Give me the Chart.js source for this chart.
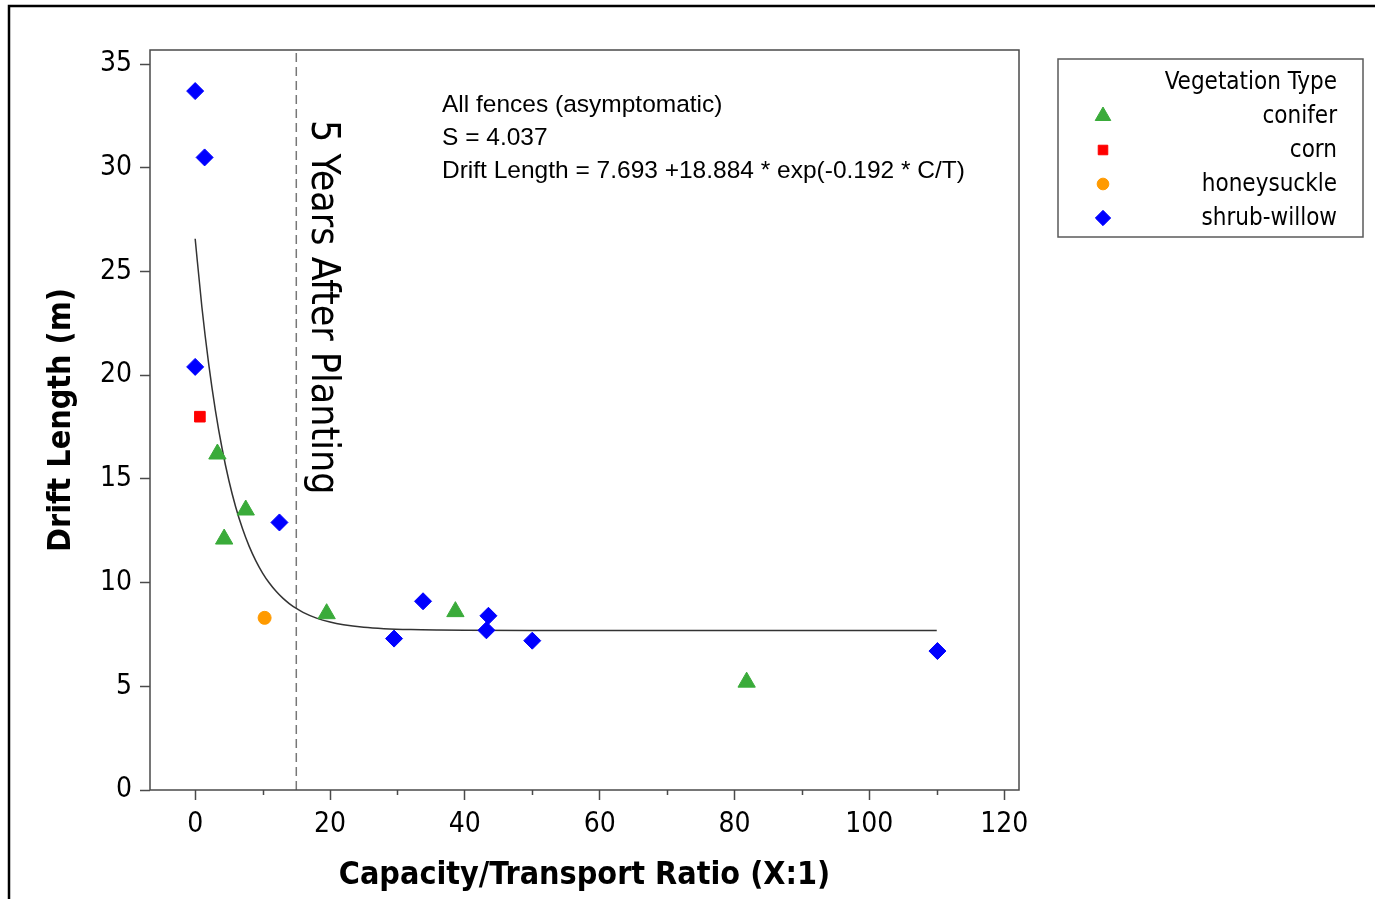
<!DOCTYPE html>
<html>
<head>
<meta charset="utf-8">
<title>Drift Length vs Capacity/Transport Ratio</title>
<script src="https://cdn.jsdelivr.net/npm/chart.js@4.4.0/dist/chart.umd.min.js"></script>
<style>
  html, body { margin: 0; padding: 0; background: #fff; }
  #wrap { width: 1375px; height: 899px; }
</style>
</head>
<body>
<div id="wrap"><canvas id="grafico" width="1375" height="899"></canvas></div>
<script>
// =======================
// Data
// =======================
const coniferX = [3.3, 7.5, 4.3, 19.5, 38.6, 81.8];
const coniferY = [16.2, 13.5, 12.1, 8.5, 8.6, 5.2];

const cornX = [0.7];
const cornY = [18.0];

const honeysuckleX = [10.3];
const honeysuckleY = [8.3];

const willowX = [0.0, 1.4, 0.0, 12.5, 33.8, 29.5, 43.5, 43.2, 50.0, 110.1];
const willowY = [33.7, 30.5, 20.4, 12.9, 9.1, 7.3, 8.4, 7.7, 7.2, 6.7];

// fitted curve, coefficients as printed on the chart
const fitA = 7.693;
const fitB = 18.884;
const fitK = -0.192;
const fitX = [0, 1, 2, 3, 4, 5, 6, 7, 8, 9, 10, 11, 12, 13, 14, 15, 16, 18, 20, 22, 25, 28, 32, 36, 40, 50, 60, 80, 110];

const plantingX = 15;   // "5 Years After Planting"

const xTicks = [0, 20, 40, 60, 80, 100, 120];
const yTicks = [0, 5, 10, 15, 20, 25, 30, 35];
const xMin = -6.7, xMax = 122.2;
const yMin = 0, yMax = 35.68;

const legendTitle = "Vegetation Type";
const legendItems = [
  { label: "conifer", color: "#3aab3a", style: "triangle", radius: 10 },
  { label: "corn", color: "#ff0000", style: "rect", radius: 7.5 },
  { label: "honeysuckle", color: "#ff9a00", style: "circle", radius: 6.5 },
  { label: "shrub-willow", color: "#0000ff", style: "rectRot", radius: 8.5 }
];

const noteLines = [
  "All fences (asymptomatic)",
  "S = 4.037",
  "Drift Length = 7.693 +18.884 * exp(-0.192 * C/T)"
];
const verticalNote = "5 Years After Planting";

// =======================
// Helpers
// =======================
function toPoints(xs, ys) {
  return xs.map((x, i) => ({ x: x, y: ys[i] }));
}

const fitPoints = fitX.map(x => ({ x: x, y: fitA + fitB * Math.exp(fitK * x) }));

const FONT = '"DejaVu Sans Condensed", Tahoma, "Liberation Sans", sans-serif';
const NOTE_FONT = '"Liberation Sans", Arial, sans-serif';

// =======================
// Plugin: frame, minor ticks, texts, legend
// =======================
const extras = {
  id: 'extras',
  beforeDraw(chart) {
    const ctx = chart.ctx;
    ctx.save();
    ctx.fillStyle = '#fff';
    ctx.fillRect(0, 0, chart.width, chart.height);
    // outer frame (top + left)
    ctx.strokeStyle = '#000';
    ctx.lineWidth = 2.5;
    ctx.beginPath();
    ctx.moveTo(chart.width, 6);
    ctx.lineTo(9, 6);
    ctx.lineTo(9, chart.height);
    ctx.stroke();
    ctx.restore();
  },
  afterDraw(chart) {
    const ctx = chart.ctx;
    const area = chart.chartArea;
    const xs = chart.scales.x;
    ctx.save();

    // plot frame
    ctx.strokeStyle = '#4a4a4a';
    ctx.lineWidth = 1.5;
    ctx.strokeRect(area.left, area.top, area.right - area.left, area.bottom - area.top);

    // minor x ticks
    ctx.beginPath();
    for (let v = 10; v <= 110; v += 20) {
      const px = Math.round(xs.getPixelForValue(v)) + 0.5;
      ctx.moveTo(px, area.bottom);
      ctx.lineTo(px, area.bottom + 5);
    }
    ctx.stroke();

    // vertical note
    ctx.fillStyle = '#000';
    ctx.font = '39px ' + FONT;
    ctx.textAlign = 'left';
    ctx.textBaseline = 'middle';
    ctx.save();
    ctx.translate(xs.getPixelForValue(plantingX) + 26, area.top + 70);
    ctx.rotate(Math.PI / 2);
    ctx.fillText(verticalNote, 0, 0);
    ctx.restore();

    // equation block
    ctx.font = '24.5px ' + NOTE_FONT;
    ctx.textBaseline = 'middle';
    noteLines.forEach((t, i) => {
      ctx.fillText(t, area.left + 292, area.top + 55 + i * 33);
    });

    // legend box
    const bx = area.right + 39, by = 59, bw = 305, bh = 178;
    ctx.strokeStyle = '#5a5a5a';
    ctx.lineWidth = 1.5;
    ctx.strokeRect(bx, by, bw, bh);
    ctx.font = '24px ' + FONT;
    ctx.textAlign = 'right';
    ctx.fillStyle = '#000';
    ctx.fillText(legendTitle, bx + bw - 26, by + 24);
    legendItems.forEach((it, i) => {
      const cy = by + 57 + i * 34;
      ctx.fillStyle = '#000';
      ctx.fillText(it.label, bx + bw - 26, cy + 1);
      ctx.fillStyle = it.color;
      ctx.strokeStyle = it.color;
      ctx.lineWidth = 1;
      Chart.helpers.drawPoint(ctx, { pointStyle: it.style, radius: it.radius * 0.9, rotation: 0, borderWidth: 1 }, bx + 45, cy);
    });

    ctx.restore();
  }
};

// =======================
// Chart
// =======================
const canvas = document.getElementById('grafico');
const ctx = canvas.getContext('2d');

function markerSet(item, xs, ys) {
  return {
    label: item.label,
    data: toPoints(xs, ys),
    pointStyle: item.style,
    pointRadius: item.radius,
    backgroundColor: item.color,
    borderColor: item.color,
    borderWidth: 1,
    order: 0
  };
}

new Chart(ctx, {
  type: 'scatter',
  data: {
    datasets: [
      markerSet(legendItems[0], coniferX, coniferY),
      markerSet(legendItems[1], cornX, cornY),
      markerSet(legendItems[2], honeysuckleX, honeysuckleY),
      markerSet(legendItems[3], willowX, willowY),
      {
        label: 'fit',
        data: fitPoints,
        showLine: true,
        pointRadius: 0,
        borderColor: '#333',
        borderWidth: 1.5,
        cubicInterpolationMode: 'monotone',
        order: 5
      },
      {
        label: 'planting',
        data: [{ x: plantingX, y: yMin }, { x: plantingX, y: yMax }],
        showLine: true,
        pointRadius: 0,
        borderColor: '#777',
        borderWidth: 1.5,
        borderDash: [9, 5],
        order: 6
      }
    ]
  },
  options: {
    responsive: false,
    animation: false,
    layout: { padding: { left: 0, top: 50, right: 356, bottom: 0 } },
    plugins: {
      legend: { display: false },
      tooltip: { enabled: false }
    },
    scales: {
      x: {
        type: 'linear',
        min: xMin,
        max: xMax,
        afterFit: (scale) => { scale.height = 109; },
        afterBuildTicks: (scale) => {
          const t = [];
          for (let v = 0; v <= 120; v += 10) t.push({ value: v });
          scale.ticks = t;
        },
        ticks: {
          autoSkip: false,
          maxRotation: 0,
          padding: 8,
          color: '#000',
          font: { family: FONT, size: 28 },
          callback: (v) => xTicks.includes(v) ? String(v) : ''
        },
        grid: {
          drawOnChartArea: false,
          tickLength: 10,
          tickWidth: 1.5,
          tickColor: (c) => (c.tick && xTicks.includes(c.tick.value)) ? '#4a4a4a' : 'rgba(0,0,0,0)'
        },
        border: { display: false },
        title: {
          display: true,
          text: 'Capacity/Transport Ratio (X:1)',
          color: '#000',
          font: { family: FONT, size: 32, weight: 'bold' },
          padding: { top: 0, bottom: 4 }
        }
      },
      y: {
        type: 'linear',
        min: yMin,
        max: yMax,
        afterFit: (scale) => { scale.width = 150; },
        afterBuildTicks: (scale) => {
          scale.ticks = yTicks.map(v => ({ value: v }));
        },
        ticks: {
          padding: 8,
          color: '#000',
          font: { family: FONT, size: 28 }
        },
        grid: {
          drawOnChartArea: false,
          tickLength: 10,
          tickWidth: 1.5,
          tickColor: '#4a4a4a'
        },
        border: { display: false },
        title: {
          display: true,
          text: 'Drift Length (m)',
          color: '#000',
          font: { family: FONT, size: 32, weight: 'bold' },
          padding: { top: 42, bottom: 0 }
        }
      }
    }
  },
  plugins: [extras]
});
</script>
</body>
</html>
